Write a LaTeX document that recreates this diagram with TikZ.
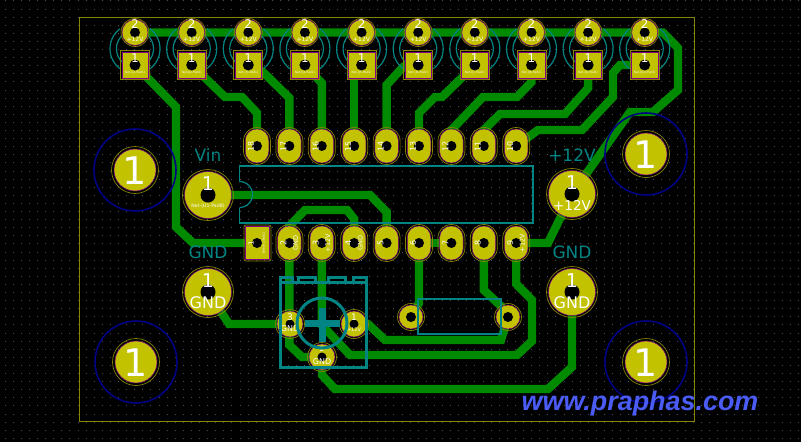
\documentclass[tikz,border=0pt]{standalone}
\usepackage{fontspec}
\setmainfont{DejaVu Sans}
\newfontfamily\webfont{Liberation Sans}
\definecolor{pcbyellow}{HTML}{C2C200}
\definecolor{pcbgreen}{HTML}{008A00}
\definecolor{pcbsilk}{HTML}{848400}
\definecolor{pcbteal}{HTML}{008484}
\definecolor{pcbblue}{HTML}{000084}
\definecolor{pcbpurple}{HTML}{840084}
\definecolor{pcbweb}{HTML}{4A5CF5}
\definecolor{pcbdot}{HTML}{505050}
\newcommand{\fs}[1]{\fontsize{#1}{#1}\selectfont}
\tikzset{
  x=1pt,y=-1pt,
  track/.style={draw=pcbgreen,line width=8.4pt,line join=miter,line cap=round},
  outline/.style={draw=pcbteal,line width=1.2pt},
  thick outline/.style={draw=pcbteal,line width=3pt},
  padbase/.style={fill=pcbyellow,draw=pcbpurple,line width=.5pt,inner sep=0pt},
  roundpad/.style={padbase,circle,minimum size=#1},
  ovalpad/.style={padbase,rectangle,rounded corners=11.5pt,minimum width=23.5pt,minimum height=34pt},
  squarepad/.style={padbase,rectangle,minimum width=#1,minimum height=#1},
  ring/.style={draw=pcbsilk,line width=.7pt,fill=none},
  hole/.style={fill=black,circle,inner sep=0pt,minimum size=#1},
  padtext/.style={text=white,inner sep=0pt,font=\fs{#1}},
  cyantext/.style={text=pcbteal,inner sep=0pt,font=\fs{17}},
}
\newcommand{\mountpad}[3]{%
  \draw[pcbblue,line width=1.6pt] (#2,#3) circle[radius=41];
  \draw[ring] (#2,#3) circle[radius=23.5];
  \node[roundpad=42pt] (#1) at (#2,#3) {};
  \node[padtext=38] at (#2,#3+1) {1};
}
\newcommand{\bigpad}[1]{%
  \draw[ring] (#1) circle[radius=25.5];
  \node[roundpad=47pt] at (#1) {};
  \node[hole=15pt] at (#1) {};
  \node[padtext=19] at ($(#1)+(0,-11)$) {1};
}
\newcommand{\dippad}[3]{%
  \draw[ring,rounded corners=13.5pt] ($(#1)+(-13.5,-18.5)$) rectangle ($(#1)+(13.5,18.5)$);
  \node[ovalpad] at (#1) {};
  \node[hole=10pt] at (#1) {};
  \node[padtext=8,rotate=90] at ($(#1)+(-6,0)$) {#2};
  \node[padtext=6.5,rotate=90] at ($(#1)+(6,0)$) {#3};
}
\usetikzlibrary{calc}
\begin{document}
\begin{tikzpicture}
\useasboundingbox (0,0) rectangle (801,442);
\fill[black] (0,0) rectangle (801,442);
% grid
\foreach \i in {0,...,98}{\foreach \j in {0,...,54}{
  \fill[pcbdot] ({4.6+8.1*\i},{0.4+8.1*\j}) rectangle +(1,1);
}}
% board edge
\draw[pcbsilk,line width=1pt] (79,17) rectangle (694,421);
% pad positions
\foreach \n/\x in {1/135,2/191.7,3/248.3,4/304.9,5/361.6,6/418.2,7/474.8,8/531.5,9/588.1,10/644.7}{
  \coordinate (A\n) at (\x,32.5);
  \coordinate (B\n) at (\x,65);
}
\foreach \n/\x in {1/257,2/289.4,3/321.8,4/354.2,5/386.6,6/419,7/451.4,8/483.8,9/516.2}{
  \coordinate (L\n) at (\x,243);
  \coordinate (U\n) at (\x,146);
}
\coordinate (Vin) at (208,195);
\coordinate (Pwr) at (572,194);
\coordinate (GndL) at (208,292);
\coordinate (GndR) at (572,292);
\coordinate (T3) at (290,324);
\coordinate (T1) at (354,324);
\coordinate (T2) at (322,357);
\coordinate (C1) at (411,317);
\coordinate (C2) at (508,317);
% tracks
\draw[track] (A1) -- (A10) -- (663,32.5) -- (678,48) -- (678,90) -- (653,112) -- (630,112) -- (Pwr);
\draw[track] (B1) -- (176,107) -- (176,227) -- (193,243) -- (L1);
\draw[track] (B2) -- (225,97) -- (242,97) -- (257,113) -- (U1);
\draw[track] (B3) -- (263,72) -- (289.4,98) -- (U2);
\draw[track] (B4) -- (317,78) -- (321.8,83) -- (U3);
\draw[track] (354.2,65) -- (U4);
\draw[track] (404,66) -- (386.6,85) -- (U5);
\draw[track] (B7) -- (442,97) -- (435,97) -- (419,113) -- (U6);
\draw[track] (B8) -- (531.5,82) -- (517,97) -- (483,97) -- (451.4,130) -- (U7);
\draw[track] (B9) -- (588.1,88) -- (565,114) -- (500,114) -- (483.8,130) -- (U8);
\draw[track] (B10) -- (620,65) -- (613,73) -- (613,97) -- (582,130) -- (538,130) -- (U9);
\draw[track] (Vin) -- (370,195) -- (386.6,212) -- (L5);
\draw[track] (L2) -- (289.4,226) -- (305,210) -- (347,210) -- (354.2,219) -- (L4);
\draw[track] (L2) -- (289.4,345) -- (302,357) -- (T2);
\draw[track] (L3) -- (321.8,325) -- (350,355) -- (517,355) -- (532,341) -- (532,300) -- (516.2,284) -- (L9);
\draw[track] (T2) -- (322,375) -- (335,389) -- (548,389) -- (572,367) -- (GndR);
\draw[track] (T1) -- (368,324) -- (385,340) -- (501,340) -- (C2);
\draw[track] (GndL) -- (229,324) -- (T3);
\draw[track] (L6) -- (419,303) -- (C1);
\draw[track] (L6) -- (L7);
\draw[track] (L8) -- (483.8,290) -- (503,308) -- (C2);
\draw[track] (L9) -- (548,243) -- (Pwr);
% connector outlines
\foreach \n in {1,...,10}{
  \coordinate (M) at ($(A\n)!.5!(B\n)$);
  \draw[outline,shift={(M)}] plot[domain=-53:53,samples=17] ({25*cos(\x)},{25*sin(\x)});
  \draw[outline,shift={(M)}] plot[domain=127:233,samples=17] ({25*cos(\x)},{25*sin(\x)});
  \draw[outline,shift={(M)}] plot[domain=-45:45,samples=17] ({18.5*cos(\x)},{18.5*sin(\x)});
  \draw[outline,shift={(M)}] plot[domain=135:225,samples=17] ({18.5*cos(\x)},{18.5*sin(\x)});
}
% connector pads
\foreach \n in {1,...,10}{
  \draw[ring] (A\n) circle[radius=14];
  \node[roundpad=26pt] (J\n b) at (A\n) {};
  \node[hole=10pt] at (A\n) {};
  \node[padtext=12] at ($(A\n)+(0,-8)$) {2};
  \node[padtext=6] at ($(A\n)+(0,6.5)$) {+12V};
  \draw[ring] ($(B\n)+(-14.5,-14.5)$) rectangle ($(B\n)+(14.5,14.5)$);
  \node[squarepad=26.5pt] (J\n a) at (B\n) {};
  \node[hole=11pt] at (B\n) {};
  \node[padtext=12] at ($(B\n)+(0,-7)$) {1};
  \node[padtext=3] at ($(B\n)+(0,8)$) {Net-(J\n-Pad1)};
}
% DIP outline
\draw[outline] (239.5,181.5) -- (239.5,166) -- (533,166) -- (533,223) -- (239.5,223) -- (239.5,207.5);
\draw[outline,shift={(239.5,194.5)}] plot[domain=-90:90,samples=21] ({13*cos(\x)},{13*sin(\x)});
% DIP pads
\foreach \n/\t in {1/18,2/17,3/16,4/15,5/14,6/13,7/12,8/11,9/10}{\dippad{U\n}{\t}{}}
\draw[ring,rounded corners=2pt] (244,225) rectangle (271,261);
\node[padbase,minimum width=24pt,minimum height=33pt] at (L1) {};
\node[hole=10pt] at (L1) {};
\node[padtext=7,rotate=90] at ($(L1)+(-6,0)$) {1};
\node[padtext=3,rotate=90] at ($(L1)+(7,0)$) {Net-(U1-Pad1)};
\dippad{L2}{2}{GND}
\dippad{L3}{3}{+12V}
\dippad{L4}{4}{GND}
\dippad{L5}{5}{}
\dippad{L6}{6}{}
\dippad{L7}{7}{}
\dippad{L8}{8}{}
\dippad{L9}{9}{+12V}
% mounting holes
\mountpad{M1}{135}{170}
\mountpad{M2}{646}{154}
\mountpad{M3}{136}{362}
\mountpad{M4}{646}{362}
% big pads
\bigpad{Vin}
\bigpad{Pwr}
\bigpad{GndL}
\bigpad{GndR}
\node[padtext=4.7] at ($(Vin)+(0,11)$) {Net-(U1-Pad8)};
\node[padtext=13.5] at ($(Pwr)+(0,11)$) {+12V};
\node[padtext=16] at ($(GndL)+(0,11)$) {GND};
\node[padtext=16] at ($(GndR)+(0,11)$) {GND};
\node[cyantext] at (208,155) {Vin};
\node[cyantext] at (572,155) {+12V};
\node[cyantext] at (208,252) {GND};
\node[cyantext] at (572,252) {GND};
% capacitor / small pads
\foreach \c in {C1,C2}{
  \draw[ring] (\c) circle[radius=13.5];
  \node[roundpad=24pt] at (\c) {};
  \node[hole=10pt] at (\c) {};
}
\draw[outline] (418,299) rectangle (501,334);
% trimmer pads
\foreach \c in {T3,T1,T2}{
  \draw[ring] (\c) circle[radius=14.5];
  \node[roundpad=26pt] at (\c) {};
  \node[hole=9pt] at (\c) {};
}
\node[padtext=9] at ($(T3)+(0,-7)$) {3};
\node[padtext=8] at ($(T3)+(0,5)$) {GND};
\node[padtext=9] at ($(T1)+(0,-7)$) {1};
\node[padtext=5] at ($(T1)+(0,6)$) {+12V};
\node[padtext=7] at ($(T2)+(0,-8)$) {2};
\node[padtext=8] at ($(T2)+(0,5)$) {GND};
% trimmer outline
\draw[thick outline] (280,367) -- (280,277) -- (292,277) -- (292,282) -- (298,282) -- (298,277) -- (315,277) -- (315,282)
  -- (328,282) -- (328,277) -- (345,277) -- (345,282) -- (353,282) -- (353,277) -- (366,277) -- (366,367) -- cycle;
\draw[thick outline] (280,282) -- (366,282);
\draw[thick outline] (322,323) circle[radius=25];
\draw[pcbteal,line width=7pt] (305,323) -- (340,323);
\draw[pcbteal,line width=7pt] (322,308) -- (322,342);
% web text
\node[text=pcbweb,anchor=base,inner sep=0pt,font=\webfont\bfseries\itshape\fs{26.9}] at (640,410) {www.praphas.com};
\end{tikzpicture}
\end{document}
